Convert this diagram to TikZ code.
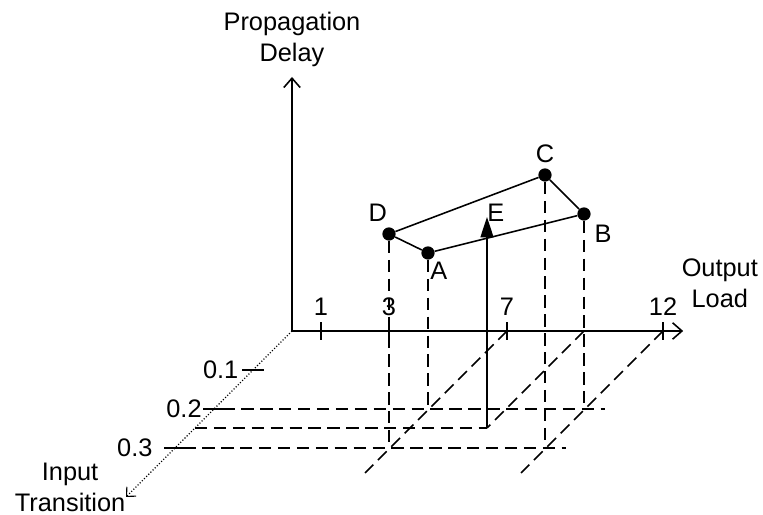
\documentclass[tikz,border=0pt]{standalone}
\usepackage{fontspec}
\setmainfont{Liberation Sans}
\usetikzlibrary{arrows.meta,positioning}

\begin{document}
\begin{tikzpicture}[
    font=\fontsize{18.5}{22.6}\selectfont,
    axis/.style={line width=1.15pt, -{Straight Barb[length=0.24cm, width=0.42cm]}},
    tickmark/.style={line width=1.15pt},
    proj/.style={line width=1.15pt, dash pattern=on 9pt off 4.8pt},
    dotnode/.style={circle, fill=black, inner sep=0pt, minimum size=0.34cm},
    lbl/.style={inner sep=0pt}
]
\useasboundingbox (-7.487,-4.718) rectangle (12.077,8.487);

\coordinate (O) at (0,0);
\coordinate (ytip) at (0,6.513);
\coordinate (xtip) at (10.03,0);
\coordinate (ztip) at (-4.256,-4.256);

\draw[axis] (O) -- (ytip);
\draw[axis] (O) -- (xtip);
\draw[line width=0.8pt, dash pattern=on 0.8pt off 1.4pt,
    -{Straight Barb[length=0.18cm, width=0.34cm, line width=0.8pt]}] (O) -- (ztip);

\node[lbl, align=center, above=0.26cm of ytip] (ylbl) {Propagation\\Delay};
\node[lbl, align=center] (xlbl) at (10.97,1.23) {Output\\Load};
\node[lbl, align=center] (zlbl) at (-5.69,-4.0) {Input\\Transition};

% ticks on the output load axis
\draw[tickmark] (0.744,0.23) coordinate (tk1) -- (0.744,-0.23);
\draw[tickmark] (2.487,0.23) coordinate (tk3) -- (2.487,-0.23);
\draw[tickmark] (5.513,0.23) coordinate (tk7) -- (5.513,-0.23);
\draw[tickmark] (9.513,0.23) coordinate (tk12) -- (9.513,-0.23);
\node[lbl, above=0.15cm of tk1] (lb1) {1};
\node[lbl, above=0.15cm of tk3] (lb3) {3};
\node[lbl, above=0.15cm of tk7] (lb7) {7};
\node[lbl, above=0.15cm of tk12] (lb12) {12};

% ticks on the input transition axis
\draw[tickmark] (-1.27,-1) coordinate (s1) -- (-0.73,-1);
\draw[tickmark] (-2.27,-2) coordinate (s2) -- (-1.73,-2);
\draw[tickmark] (-3.27,-3) coordinate (s3) -- (-2.73,-3);
\node[lbl, left=0.1cm of s1] (lt1) {0.1};
\node[lbl, left=0.04cm of s2] (lt2) {0.2};
\node[lbl, left=0.3cm of s3] (lt3) {0.3};

\node[dotnode] (D) at (2.487,2.487) {};
\node[dotnode] (A) at (3.487,2) {};
\node[dotnode] (C) at (6.487,4) {};
\node[dotnode] (B) at (7.487,3) {};
\coordinate (E) at (5,2.923);

\node[lbl, above left=0.2cm and -0.08cm of D] (lD) {D};
\node[lbl, below right=0.11cm and -0.07cm of A] (lA) {A};
\node[lbl, above=0.13cm of C] (lC) {C};
\node[lbl, below right=0.15cm and 0.14cm of B] (lB) {B};
\node[lbl, above right=-0.13cm and 0cm of E] (lE) {E};

\draw[line width=1.15pt] (D) -- (A) -- (B) -- (C) -- (D);

\coordinate (Dp) at (2.487,-3);
\coordinate (Ap) at (3.487,-2);
\coordinate (Cp) at (6.487,-3);
\coordinate (Bp) at (7.487,-2);
\coordinate (Eb) at (5,-2.487);
\coordinate (Ez) at (-2.487,-2.487);
\coordinate (r2) at (8.03,-2);
\coordinate (r3) at (7.03,-3);
\coordinate (Bx) at (7.487,0);
\coordinate (d7) at (1.872,-3.641);
\coordinate (d12) at (5.872,-3.641);

\draw[proj] (D) -- (Dp);
\draw[proj] (A) -- (Ap);
\draw[proj] (C) -- (Cp);
\draw[proj] (B) -- (Bp);

\draw[proj] (s2) -- (r2);
\draw[proj] (Ez) -- (Eb);
\draw[proj] (s3) -- (r3);

\draw[proj] (5.513,0) -- (d7);
\draw[proj] (Bx) -- (Eb);
\draw[proj] (9.513,0) -- (d12);

\draw[line width=1.15pt, -{Triangle[length=0.52cm, width=0.33cm]}] (Eb) -- (E);
\end{tikzpicture}
\end{document}
